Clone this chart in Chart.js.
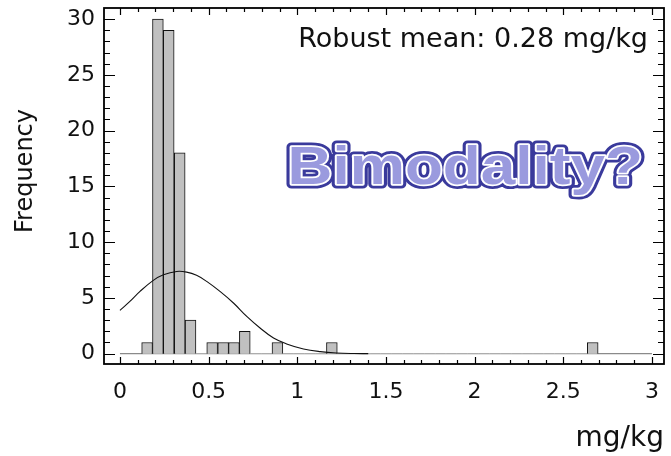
<!DOCTYPE html>
<html>
<head>
<meta charset="utf-8">
<script src="https://cdn.jsdelivr.net/npm/chart.js@4.4.1/dist/chart.umd.min.js"></script>
<style>
  html, body { margin: 0; padding: 0; background: #fff; }
  #wrap { width: 671px; height: 456px; position: relative; }
</style>
</head>
<body>
<div id="wrap"><canvas id="histChart"></canvas></div>
<script>
// histogram bins (centres, mg/kg) and counts
const binCenters = [
  0.153, 0.214, 0.275, 0.337, 0.398, 0.459, 0.520, 0.582, 0.643, 0.704,
  0.766, 0.827, 0.888, 0.950, 1.011, 1.072, 1.133, 1.195, 1.256, 1.317,
  1.379, 1.440, 1.501, 1.563, 1.624, 1.685, 1.747, 1.808, 1.869, 1.930,
  1.992, 2.053, 2.114, 2.176, 2.237, 2.298, 2.360, 2.421, 2.482, 2.543,
  2.605, 2.666
];
const binCounts = [
  1, 30, 29, 18, 3, 0, 1, 1, 1, 2,
  0, 0, 1, 0, 0, 0, 0, 1, 0, 0,
  0, 0, 0, 0, 0, 0, 0, 0, 0, 0,
  0, 0, 0, 0, 0, 0, 0, 0, 0, 0,
  0, 1
];

// fitted normal curve
const curveX = [0.0, 0.056, 0.113, 0.188, 0.245, 0.32, 0.376, 0.432, 0.489, 0.564,
                0.64, 0.715, 0.79, 0.866, 0.94, 1.035, 1.13, 1.22, 1.32, 1.4];
const curveY = [3.88, 4.68, 5.58, 6.57, 7.07, 7.37, 7.31, 7.02, 6.48, 5.58,
                4.54, 3.34, 2.30, 1.40, 0.87, 0.42, 0.18, 0.06, 0.01, 0.0];

const baseX = [0, 3];
const baseY = [0, 0];

const xTickLabels = [0, 0.5, 1, 1.5, 2, 2.5, 3];
const yTickLabels = [0, 5, 10, 15, 20, 25, 30];

const FONT = '"DejaVu Sans", sans-serif';

const frameTicks = {
  id: 'frameTicks',
  afterDatasetsDraw(chart) {
    const { ctx, chartArea: a, scales: { x, y } } = chart;
    ctx.save();
    ctx.strokeStyle = '#000';
    ctx.lineWidth = 1.2;
    ctx.beginPath();
    // x ticks every 0.1, major every 0.5
    for (let i = 0; i <= 30; i++) {
      const p = Math.round(x.getPixelForValue(i / 10)) + 0.5;
      const len = i % 5 === 0 ? 7 : 4;
      ctx.moveTo(p, a.bottom); ctx.lineTo(p, a.bottom - len);
      ctx.moveTo(p, a.top); ctx.lineTo(p, a.top + len);
    }
    // y ticks every 1, major every 5
    for (let i = 0; i <= 30; i++) {
      const p = Math.round(y.getPixelForValue(i)) + 0.5;
      const len = i % 5 === 0 ? 11 : 6;
      ctx.moveTo(a.left, p); ctx.lineTo(a.left + len, p);
      ctx.moveTo(a.right, p); ctx.lineTo(a.right - len, p);
    }
    ctx.stroke();
    ctx.lineWidth = 1.8;
    ctx.strokeRect(a.left, a.top, a.right - a.left, a.bottom - a.top);
    ctx.restore();
  },
  afterDraw(chart) {
    const { ctx, chartArea: a } = chart;
    ctx.save();
    ctx.fillStyle = '#111';

    // y axis title, sits a bit above the middle of the frame
    ctx.save();
    ctx.translate(26, a.top + 163);
    ctx.rotate(-Math.PI / 2);
    ctx.textAlign = 'center';
    ctx.textBaseline = 'middle';
    ctx.font = '24px ' + FONT;
    ctx.fillText('Frequency', 0, 0);
    ctx.restore();

    ctx.textAlign = 'right';
    ctx.textBaseline = 'alphabetic';
    ctx.font = '27px ' + FONT;
    ctx.fillText('Robust mean: 0.28 mg/kg', a.right - 16, a.top + 39);

    // outlined "word art" label, a wide bold face
    ctx.save();
    ctx.translate(a.right - 21, a.top + 176);
    ctx.scale(1.15, 1);
    ctx.font = 'bold 54px "Liberation Sans", Arial, sans-serif';
    ctx.lineJoin = 'round';
    ctx.strokeStyle = '#3a3a9c';
    ctx.lineWidth = 9;
    ctx.strokeText('Bimodality?', 0, 0);
    ctx.strokeStyle = '#ffffff';
    ctx.lineWidth = 3.5;
    ctx.strokeText('Bimodality?', 0, 0);
    ctx.fillStyle = '#9a9ade';
    ctx.fillText('Bimodality?', 0, 0);
    ctx.restore();
    ctx.restore();
  }
};

const ctx = document.getElementById('histChart');

new Chart(ctx, {
  type: 'bar',
  data: {
    datasets: [
      {
        type: 'line',
        data: curveX.map((v, i) => ({ x: v, y: curveY[i] })),
        borderColor: '#111',
        borderWidth: 1.1,
        pointRadius: 0,
        tension: 0.4,
        order: 0
      },
      {
        type: 'bar',
        data: binCenters.map((v, i) => ({ x: v, y: binCounts[i] })),
        backgroundColor: '#c0c0c0',
        borderColor: '#111',
        borderWidth: c => (c.raw && c.raw.y > 0 ? 1 : 0),
        borderSkipped: 'bottom',
        barPercentage: 1,
        categoryPercentage: 1,
        order: 1
      },
      {
        type: 'line',
        data: baseX.map((v, i) => ({ x: v, y: baseY[i] })),
        borderColor: '#8a8a8a',
        borderWidth: 1.2,
        pointRadius: 0,
        order: 2
      }
    ]
  },
  options: {
    responsive: true,
    maintainAspectRatio: false,
    animation: false,
    layout: { padding: { top: 8, right: 7, left: 0, bottom: 0 } },
    plugins: {
      legend: { display: false },
      tooltip: { enabled: false }
    },
    scales: {
      x: {
        type: 'linear',
        min: -0.09,
        max: 3.068,
        offset: false,
        grid: { display: false, drawTicks: false },
        border: { display: false },
        afterBuildTicks: s => { s.ticks = xTickLabels.map(v => ({ value: v })); },
        afterFit: s => { s.height = 92; s.paddingLeft = 0; s.paddingRight = 0; },
        ticks: {
          font: { family: FONT, size: 22 },
          color: '#111',
          padding: 15,
          maxRotation: 0,
          callback: v => String(v)
        },
        title: {
          display: true,
          text: 'mg/kg',
          align: 'end',
          font: { family: FONT, size: 28 },
          color: '#111',
          padding: { top: 4, bottom: 0 }
        }
      },
      y: {
        min: -0.93,
        max: 31,
        grid: { display: false, drawTicks: false },
        border: { display: false },
        afterBuildTicks: s => { s.ticks = yTickLabels.map(v => ({ value: v })); },
        afterFit: s => { s.width = 104; s.paddingTop = 0; s.paddingBottom = 0; },
        ticks: {
          font: { family: FONT, size: 22 },
          color: '#111',
          padding: 9,
          callback: v => String(v)
        }
      }
    }
  },
  plugins: [frameTicks]
});
</script>
</body>
</html>
